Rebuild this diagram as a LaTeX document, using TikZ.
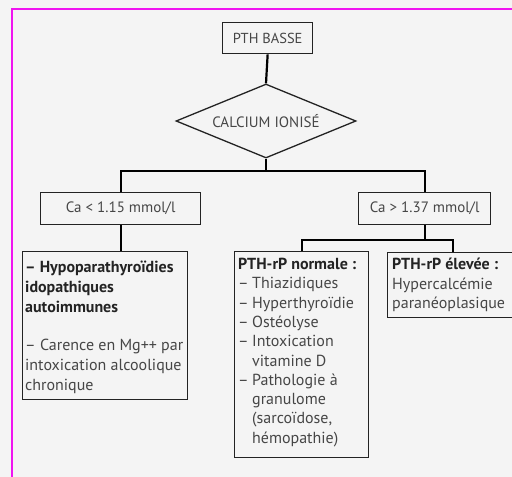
\documentclass[tikz,border=0pt]{standalone}
\usepackage{fontspec}
\setmainfont{PT Sans}
\usetikzlibrary{shapes.geometric}
\definecolor{framec}{RGB}{240,20,240}
\definecolor{ink}{RGB}{35,35,35}
\definecolor{txt}{RGB}{70,70,70}
\definecolor{bg}{RGB}{244,244,244}
\newcommand{\dsh}{\makebox[14pt][l]{–}}
\newcommand{\inds}{\hspace*{14pt}}
\begin{document}
\begin{tikzpicture}[x=1pt,y=-1pt,
  box/.style={draw=ink, line width=1.3pt, inner sep=0pt, anchor=north west},
  lbl/.style={font=\fontsize{15}{18}\selectfont, text=txt},
  link/.style={draw=black, line width=2.2pt},
  body/.style={font=\fontsize{16}{19.3}\selectfont, text=txt, align=left, anchor=north west, inner sep=0pt}]
\fill[bg] (0,0) rectangle (512,477);
\useasboundingbox (0,0) rectangle (512,477);
\draw[framec, line width=2.5pt] (12,480) -- (12,9) -- (515,9);

\node[box, lbl, font=\fontsize{14.5}{17}\selectfont, minimum width=90pt, minimum height=31pt] (ptb) at (222,22) {PTH BASSE};
\node[draw=ink, line width=1.3pt, diamond, aspect=2.4, minimum width=180pt, minimum height=74pt, inner sep=0pt, lbl] (dia) at (266,121) {CALCIUM IONISÉ};
\node[box, lbl, minimum width=160pt, minimum height=32pt] (ca1) at (40,192) {Ca < 1.15 mmol/l};
\node[box, lbl, minimum width=132pt, minimum height=32pt] (ca2) at (358,192) {Ca > 1.37 mmol/l};
\node[box, minimum width=165pt, minimum height=148pt] (hypo) at (22,251) {};
\node[box, minimum width=134pt, minimum height=206pt] (norm) at (234,251) {};
\node[box, minimum width=130pt, minimum height=65pt] (elev) at (387,252) {};

\draw[link] (ptb.south) -- (dia.north);
\draw[link] (dia.south) -- ++(0,12) coordinate (j1);
\draw[link] (ca1.north) |- (j1) -| (ca2.north);
\draw[link] (ca1.south) -- (ca1.south |- hypo.north);
\draw[link] (ca2.south) -- ++(0,15) coordinate (j2);
\draw[link] (norm.north) |- (j2) -| (elev.north);

\node[body, font=\fontsize{16}{20}\selectfont] (hypotxt) at (25,260.5) {{\color{ink}\bfseries – Hypoparathyroïdies}\\ {\color{ink}\bfseries idopathiques}\\ {\color{ink}\bfseries autoimmunes}\\[18pt] – Carence en Mg++ par\\ intoxication alcoolique\\ chronique};
\node[body] (normtxt) at (238,258) {{\color{ink}\bfseries PTH-rP normale :}\\ \dsh Thiazidiques\\ \dsh Hyperthyroïdie\\ \dsh Ostéolyse\\ \dsh Intoxication\\ \inds vitamine D\\ \dsh Pathologie à\\ \inds granulome\\ \inds (sarcoïdose,\\ \inds hémopathie)};
\node[body] (elevtxt) at (392,258) {{\color{ink}\bfseries PTH-rP élevée :}\\ Hypercalcémie\\ paranéoplasique};
\end{tikzpicture}
\end{document}
